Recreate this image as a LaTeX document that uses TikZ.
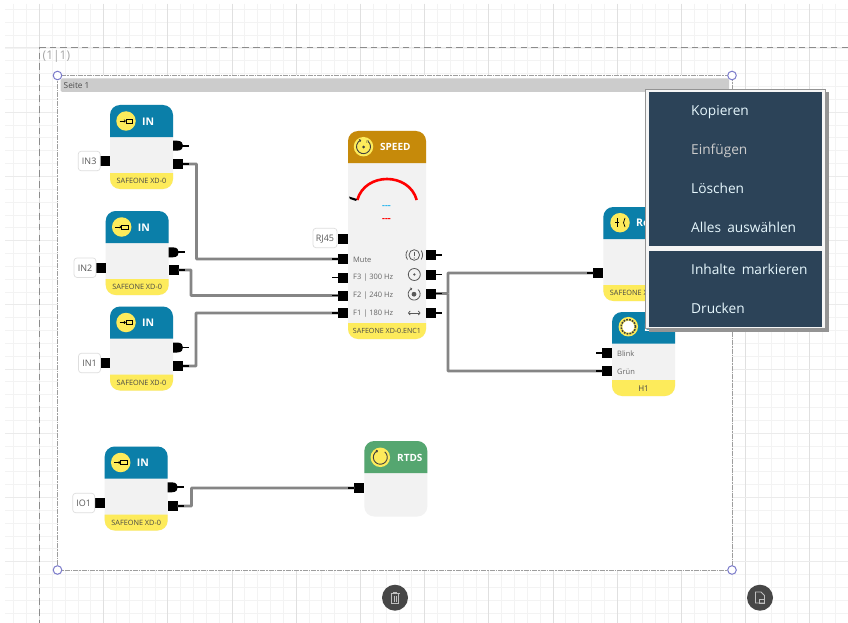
\documentclass[tikz,border=0pt]{standalone}
\usepackage{fontspec}
\setmainfont{Open Sans}
\usetikzlibrary{calc,arrows.meta}
\definecolor{hblue}{HTML}{0B7FA9}
\definecolor{hgold}{HTML}{C68A0A}
\definecolor{hgreen}{HTML}{55A670}
\definecolor{fyel}{HTML}{FDEB5B}
\definecolor{bodyg}{HTML}{F2F2F2}
\definecolor{menub}{HTML}{2C4358}
\definecolor{gmaj}{HTML}{E0E0E0}
\definecolor{gmin}{HTML}{F3F3F3}
\definecolor{sel}{HTML}{7C7CCB}
\definecolor{wireg}{HTML}{858585}
\definecolor{speedcyan}{HTML}{2FB8EE}
\newcommand{\fs}[1]{\fontsize{#1}{#1}\selectfont}
\tikzset{
  portbox/.style={fill=black,inner sep=0pt,minimum size=10pt,outer sep=0pt},
  stub/.style={draw=black,line width=1.7pt},
  wire/.style={draw=wireg,line width=2.8pt,rounded corners=0.5pt},
  lblbox/.style={draw=black!13,fill=white,rounded corners=3pt,line width=0.7pt,inner sep=0pt,minimum height=19.5pt,text height=6.6pt,text depth=0pt,text=black!65,font=\fs{9}},
  title/.style={text=white,font=\fs{10.5}\bfseries,anchor=west,inner sep=0pt},
  foot/.style={text=black!72,font=\fs{7.3},inner sep=0pt},
  sig/.style={text=black!60,font=\fs{7.5},anchor=west,inner sep=0pt},
  iconc/.style={circle,fill=fyel,minimum size=19.5pt,inner sep=0pt},
  menut/.style={text=#1,font=\fs{13.7},anchor=base west,inner sep=0pt},
  handle/.style={draw=sel,fill=white,line width=1pt},
  icon/.style={draw=black!65,line width=0.8pt},
  smallarrow/.style={-{To[length=2pt,width=3pt]}},
}
% #1 x, #2 top, #3 header bottom, #4 bottom, #5 width, #6 colour
\newcommand{\blockbody}[6]{
  \fill[bodyg,rounded corners=10pt] (#1,#2) rectangle ({#1+#5},#4);
  \fill[#6] (#1,#3) [rounded corners=10pt] -- (#1,#2) -- ({#1+#5},#2) [sharp corners] -- ({#1+#5},#3) -- cycle;
}
% #1 x, #2 footer top, #3 bottom, #4 width
\newcommand{\blockfoot}[4]{
  \fill[fyel] (#1,#2) [rounded corners=10pt] -- (#1,#3) -- ({#1+#4},#3) [sharp corners] -- ({#1+#4},#2) -- cycle;
}
\newcommand{\dport}[2]{
  \fill[black] (#1,{#2-5}) -- ({#1+4},{#2-5}) .. controls ({#1+9},{#2-5}) and ({#1+10},{#2-2}) .. ({#1+10},#2) .. controls ({#1+10},{#2+2}) and ({#1+9},{#2+5}) .. ({#1+4},{#2+5}) -- (#1,{#2+5}) -- cycle;
  \draw[stub] ({#1+9},#2) -- ({#1+16},#2);
}
% IN block: #1 id, #2 x, #3 top, #4 label, #5 label centre x, #6 left port y, #7 out y, #8 d y
\newcommand{\inblock}[8]{
  \blockbody{#2}{#3}{#3+32}{#3+84}{63}{hblue}
  \blockfoot{#2}{#3+68}{#3+84}{63}
  \node[iconc] (#1icon) at ({#2+16},{#3+16}) {};
  \draw[black,line width=0.6pt,smallarrow] ({#2+9.5},{#3+16}) -- ({#2+15.8},{#3+16});
  \draw[black,line width=0.6pt] ({#2+16},{#3+14}) rectangle ({#2+22.5},{#3+18});
  \node[title] (#1title) at ({#2+32},{#3+16.5}) {IN};
  \node[foot] (#1foot) at ({#2+31.5},{#3+76}) {SAFEONE XD-0};
  \node[portbox] (#1in) at ({#2-5},#6) {};
  \node[lblbox,minimum width=22pt] (#1lbl) at (#5,#6) {#4};
  \node[portbox] (#1out) at ({#2+68},#7) {};
  \pgfmathsetmacro{\dpx}{#2+63}
  \dport{\dpx}{#8}
}
\begin{document}
\begin{tikzpicture}[x=1pt,y=-1pt]
\useasboundingbox (0,0) rectangle (848,623);
\fill[white] (0,0) rectangle (848,623);
% grid
\foreach \k in {-2,...,64}{
  \pgfmathsetmacro{\vx}{39.4+12.84*\k}
  \draw[gmin,line width=0.8pt] (\vx,4) -- (\vx,623);
}
\foreach \k in {-3,...,44}{
  \pgfmathsetmacro{\hy}{48+12.84*\k}
  \draw[gmin,line width=0.8pt] (5,\hy) -- (848,\hy);
}
\foreach \k in {0,...,12}{
  \pgfmathsetmacro{\vx}{39.4+64.2*\k}
  \draw[gmaj,line width=1pt] (\vx,4) -- (\vx,623);
}
\foreach \k in {0,...,8}{
  \pgfmathsetmacro{\hy}{48+64.2*\k}
  \draw[gmin!60!gmaj,line width=1pt] (5,\hy) -- (848,\hy);
}
% page
\draw[black!45,line width=1pt,dash pattern=on 6.5pt off 4.2pt] (848,48) -- (39.5,48) -- (39.5,623);
\node[text=black!35,font=\fs{12},anchor=west,inner sep=0pt] (coord) at (42.5,56.5) {(1|1)};
\fill[white] (57.5,75.5) rectangle (732,570);
\draw[black!38,line width=1pt,dash pattern=on 5pt off 1pt on 1.5pt off 1pt] (57.5,75.5) rectangle (732,570);
\fill[black!20,rounded corners=1.5pt] (60.5,78.5) rectangle (729,92);
\node[text=black!70,font=\fs{8.3},anchor=west,inner sep=0pt] (seite) at (63.5,85.5) {Seite 1};
\foreach \px/\py in {57.5/75.5,732/75.5,57.5/570,732/570}{
  \draw[handle] (\px,\py) circle (4.3pt);
}
% IN blocks
\inblock{a}{110}{105}{IN3}{89.2}{161}{164}{145.7}
\inblock{b}{105.7}{211}{IN2}{85}{267.7}{270}{252.3}
\inblock{c}{110}{306.5}{IN1}{89.5}{363}{366}{347.5}
\inblock{d}{104.7}{446.5}{IO1}{83.7}{503}{506}{487.3}
% SPEED
\blockbody{348}{131}{163}{339}{78}{hgold}
\blockfoot{348}{323}{339}{78}
\node[iconc] (spicon) at (363.5,146.7) {};
\draw[black!75,line width=0.9pt,smallarrow] (368,141.3) arc[start angle=50,end angle=-250,radius=7pt];
\fill[black!75] (363.5,147) circle (1.5pt);
\node[text=black!75,font=\fs{5},inner sep=0pt] (spn) at (367.8,142) {n};
\node[title,font=\fs{10}\bfseries] (sptitle) at (380,147) {SPEED};
\draw[red,line width=2.6pt] (357.3,200) .. controls (365,172) and (409,172) .. (416.7,200);
\fill[black] (349,196.5) -- (357,199) -- (356,201) -- (350,199) -- cycle;
\node[text=speedcyan,font=\fs{9}\bfseries,inner sep=0pt] (spv1) at (386.5,207) {-{}-{}-};
\node[text=red,font=\fs{9}\bfseries,inner sep=0pt] (spv2) at (386.5,220) {-{}-{}-};
\node[foot,font=\fs{7.1}] (spfoot) at (387,331) {SAFEONE XD-0.ENC1};
\node[portbox] (rj) at (343,238.5) {};
\node[lblbox,minimum width=24pt] (rjl) at (325,238) {RJ45};
\node[portbox] (mute) at (343,259) {};
\node[portbox] (f3) at (343,277.5) {};
\node[portbox] (f2) at (343,295.5) {};
\node[portbox] (f1) at (343,313) {};
\node[sig] (ms) at (353,259.5) {Mute};
\node[sig] (f3s) at (353,277.7) {F3 | 300 Hz};
\node[sig] (f2s) at (353,296) {F2 | 240 Hz};
\node[sig] (f1s) at (353,313.7) {F1 | 180 Hz};
\node[portbox] (r1) at (431,255) {};
\node[portbox] (r2) at (431,274.5) {};
\node[portbox] (r3) at (431,293.5) {};
\node[portbox] (r4) at (431,313) {};
% right side signal icons
\draw[icon] (414.3,255) circle (5.3pt);
\draw[icon] (407.5,250.5) .. controls (405.5,253) and (405.5,257) .. (407.5,259.5);
\draw[icon] (421.1,250.5) .. controls (423.1,253) and (423.1,257) .. (421.1,259.5);
\draw[icon] (414.3,251.5) -- (414.3,256);
\fill[black!65] (414.3,258) circle (0.6pt);
\draw[icon] (414.3,274.5) circle (6pt);
\fill[black!65] (414.3,274.5) circle (1.3pt);
\draw[icon,smallarrow] (418,289.5) arc[start angle=50,end angle=-250,radius=6pt];
\fill[black!65] (414,294.2) circle (2.4pt);
\draw[icon,{To[length=2.5pt,width=4.5pt]}-{To[length=2.5pt,width=4.5pt]}] (408,313) -- (420.5,313);
% Re
\blockbody{603.3}{207}{239}{301}{63}{hblue}
\blockfoot{603.3}{285}{301}{63}
\node[iconc] (reicon) at (620,222.7) {};
\draw[black,line width=0.7pt] (615,222.7) -- (619,222.7);
\draw[black,line width=0.7pt] (617,218) -- (617,227);
\draw[black,line width=0.7pt] (625,218) -- (623.5,222.7) -- (625,227);
\node[title] (retitle) at (636,222.7) {Re};
\node[foot] (refoot) at (634.8,293) {SAFEONE XD-0};
\node[portbox] (rein) at (598,273) {};
% LED
\blockbody{612}{312}{343.5}{396}{63}{hblue}
\blockfoot{612}{380}{396}{63}
\node[iconc] (ledicon) at (628.3,326.7) {};
\draw[black!75,line width=1.6pt,dash pattern=on 1.8pt off 1.1pt] (628.3,326.7) circle (7.2pt);
\fill[white] (628.3,326.7) circle (5.8pt);
\node[title] (ledtitle) at (644,328) {LED};
\node[portbox] (blink) at (607,352.7) {};
\node[portbox] (gruen) at (607,371) {};
\node[sig] (blinks) at (617,353.2) {Blink};
\node[sig] (gruens) at (617,371.5) {Grün};
\node[foot,font=\fs{8}] (h1) at (643.5,388.5) {H1};
% RTDS
\blockbody{364.3}{441}{473}{516.5}{63}{hgreen}
\node[iconc] (rticon) at (380.3,457.3) {};
\draw[black!75,line width=0.9pt,smallarrow] (384.8,451.9) arc[start angle=50,end angle=-250,radius=7pt];
\node[title,font=\fs{10}\bfseries] (rttitle) at (397,457.5) {RTDS};
\node[portbox] (rtin) at (359.3,488) {};
% wires
\coordinate (w1) at (196.5,200);
\coordinate (w2) at (191,280);
\coordinate (w3) at (196,340);
\coordinate (w4) at (191.5,495);
\coordinate (j) at (448,293.5);
\draw[wire] (aout.east) -| (w1) |- (mute.west);
\draw[wire] (bout.east) -| (w2) |- (f2.west);
\draw[wire] (cout.east) -| (w3) |- (f1.west);
\draw[wire] (dout.east) -| (w4) |- (rtin.west);
\draw[wire] (r3.east) -- (j);
\draw[wire] (j) |- (rein.west);
\draw[wire] (j) |- (gruen.west);
% stubs
\foreach \n in {mute,f3,f2,f1,rein,blink,gruen,rtin}{
  \draw[stub] (\n.west) -- ++(-6,0);
}
\foreach \n in {aout,bout,cout,dout,r1,r2,r3,r4}{
  \draw[stub] (\n.east) -- ++(6,0);
}
% context menu
\fill[black!42] (648.5,92) rectangle (828.5,332);
\fill[white!96!black] (645.7,89.3) rectangle (825.7,329);
\draw[black!42,line width=0.9pt] (645.9,89.5) rectangle (825.5,328.8);
\fill[menub] (649,92.3) rectangle (822.3,246);
\fill[menub] (649,250.8) rectangle (822.3,327);
\node[menut=white!90!cyan] (m1) at (691,115.7) {Kopieren};
\node[menut=white!60!gray] (m2) at (691,154.7) {Einfügen};
\node[menut=white!90!cyan] (m3) at (691,193.3) {Löschen};
\node[menut=white!90!cyan] (m4) at (691,232) {Alles\hspace{0.2em} auswählen};
\node[menut=white!90!cyan] (m5) at (691,274.7) {Inhalte\hspace{0.2em} markieren};
\node[menut=white!90!cyan] (m6) at (691,313.3) {Drucken};
% buttons
\fill[black!72] (395,597.7) circle (13pt);
\draw[black!25,line width=0.8pt] (390.5,593.5) -- (399.5,593.5);
\draw[black!25,line width=0.8pt] (391.5,593.5) rectangle (398.5,603);
\draw[black!25,line width=0.5pt] (393.8,595.5) -- (393.8,601.5) (396.2,595.5) -- (396.2,601.5);
\draw[black!25,line width=0.8pt] (393.5,593.5) -- (393.5,592) -- (396.5,592) -- (396.5,593.5);
\fill[black!72] (760,597.7) circle (13pt);
\draw[black!25,line width=0.8pt] (755.5,603) -- (755.5,592) -- (761,592) -- (764.5,595.5) -- (764.5,603) -- cycle;
\draw[black!25,line width=0.8pt] (759,599) rectangle (764.5,603.5);
\end{tikzpicture}
\end{document}
